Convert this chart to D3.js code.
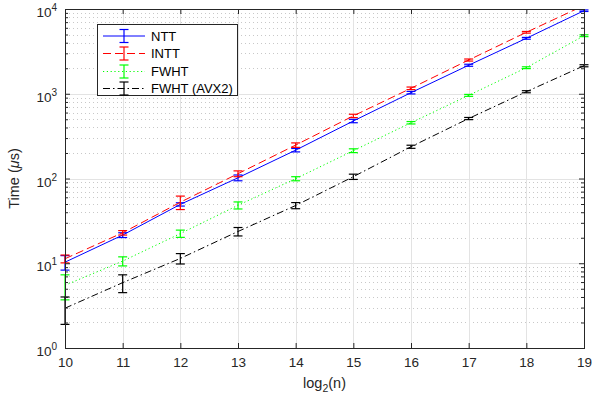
<!DOCTYPE html>
<html><head><meta charset="utf-8">
<script src="https://cdn.jsdelivr.net/npm/d3@7"></script>
<style>body{margin:0;background:#fff}</style>
</head><body>
<svg id="c" width="605" height="402"></svg>
<script>
// ---- data ----
const nVals = [10, 11, 12, 13, 14, 15, 16, 17, 18, 19];
const nttMean  = [10.3, 21.5, 49.5, 102, 216, 477, 1030, 2170, 4510, 9550];
const nttErr   = [2.0, 1.4, 2.2, 8, 10, 22, 35, 60, 110, 200];
const inttMean = [11.3, 22.9, 52.5, 114, 248, 548, 1160, 2500, 5310, 11000];
const inttErr  = [1.2, 1.4, 9.5, 9, 15, 25, 40, 70, 120, 200];
const fwhtMean = [5.5, 10.6, 22.4, 48.3, 99.5, 213, 455, 957, 2030, 4840];
const fwhtErr  = [1.8, 1.3, 2.2, 4.6, 5.5, 11, 15, 25, 50, 120];
const avxMean  = [2.95, 5.9, 11.4, 23.7, 48, 105, 237, 510, 1057, 2140];
const avxErr   = [1.05, 1.4, 1.6, 2.7, 4, 7.5, 10, 15, 30, 60];
const seriesNames = ["NTT", "INTT", "FWHT", "FWHT (AVX2)"];
const yTickExp = [0, 1, 2, 3, 4];
const xLabel = "log";
const yLabel = "Time (";

const series = [
  {name: seriesNames[0], mean: nttMean,  err: nttErr,  color: "#0000ff", dash: null},
  {name: seriesNames[1], mean: inttMean, err: inttErr, color: "#ff0000", dash: "8,4"},
  {name: seriesNames[2], mean: fwhtMean, err: fwhtErr, color: "#00ff00", dash: "1.2,2.6"},
  {name: seriesNames[3], mean: avxMean,  err: avxErr,  color: "#000000", dash: "7,3,1.5,3"}
];

const FONT = "'Liberation Sans', Arial, Helvetica, sans-serif";
const AX = "#262626";
const svg = d3.select("#c").style("font-family", FONT);
const L = 65, R = 584, T = 9, B = 348;
const x = d3.scaleLinear().domain([10, 19]).range([L, R]);
const y = d3.scaleLog().domain([1, 1e4]).range([B, T]);

// minor tick values
const minorVals = [];
for (let e = 0; e < 4; e++) for (let k = 2; k <= 9; k++) minorVals.push(k * Math.pow(10, e));
const majorVals = yTickExp.map(e => Math.pow(10, e));

// ---- grid ----
const grid = svg.append("g");
grid.selectAll(".mg").data(minorVals).join("line")
  .attr("x1", L).attr("x2", R)
  .attr("y1", d => Math.round(y(d)) + 0.5).attr("y2", d => Math.round(y(d)) + 0.5)
  .attr("stroke", "#c8c8c8").attr("stroke-width", 1).attr("stroke-dasharray", "1,3");
grid.selectAll(".gy").data(majorVals).join("line")
  .attr("x1", L).attr("x2", R)
  .attr("y1", d => Math.round(y(d)) + 0.5).attr("y2", d => Math.round(y(d)) + 0.5)
  .attr("stroke", "#e3e3e3").attr("stroke-width", 1);
grid.selectAll(".gx").data(nVals).join("line")
  .attr("y1", T).attr("y2", B)
  .attr("x1", d => Math.round(x(d)) + 0.5).attr("x2", d => Math.round(x(d)) + 0.5)
  .attr("stroke", "#e3e3e3").attr("stroke-width", 1);

// ---- series ----
svg.append("defs").append("clipPath").attr("id", "clip")
  .append("rect").attr("x", L - 10).attr("y", T).attr("width", R - L + 20).attr("height", B - T);
const plot = svg.append("g").attr("clip-path", "url(#clip)");
const line = d3.line().x((d, i) => x(nVals[i])).y(d => y(d));
const capW = 4.5;
series.forEach(s => {
  plot.append("path").attr("d", line(s.mean)).attr("fill", "none")
    .attr("stroke", s.color).attr("stroke-width", 1)
    .attr("stroke-dasharray", s.dash);
  const g = plot.append("g").attr("stroke", s.color).attr("stroke-width", 1.2);
  s.mean.forEach((m, i) => {
    const xc = x(nVals[i]);
    const y1 = y(Math.max(m - s.err[i], 0.5)), y2 = y(m + s.err[i]);
    g.append("line").attr("x1", xc).attr("x2", xc).attr("y1", y1).attr("y2", y2);
    g.append("line").attr("x1", xc - capW).attr("x2", xc + capW).attr("y1", y1).attr("y2", y1);
    g.append("line").attr("x1", xc - capW).attr("x2", xc + capW).attr("y1", y2).attr("y2", y2);
  });
});

// ---- axes ----
const fmtNone = () => "";
const xb = svg.append("g").attr("transform", `translate(0,${B})`)
  .call(d3.axisBottom(x).tickValues(nVals).tickFormat(d3.format("d")).tickSizeInner(-5).tickSizeOuter(0).tickPadding(9));
const xt = svg.append("g").attr("transform", `translate(0,${T})`)
  .call(d3.axisTop(x).tickValues(nVals).tickFormat(fmtNone).tickSizeInner(-5).tickSizeOuter(0));
const yl = svg.append("g").attr("transform", `translate(${L},0)`)
  .call(d3.axisLeft(y).tickValues(majorVals).tickFormat(fmtNone).tickSizeInner(-5).tickSizeOuter(0));
const ylm = svg.append("g").attr("transform", `translate(${L},0)`)
  .call(d3.axisLeft(y).tickValues(minorVals).tickFormat(fmtNone).tickSizeInner(-3).tickSizeOuter(0));
const yr = svg.append("g").attr("transform", `translate(${R},0)`)
  .call(d3.axisRight(y).tickValues(majorVals).tickFormat(fmtNone).tickSizeInner(-5).tickSizeOuter(0));
const yrm = svg.append("g").attr("transform", `translate(${R},0)`)
  .call(d3.axisRight(y).tickValues(minorVals).tickFormat(fmtNone).tickSizeInner(-3).tickSizeOuter(0));
[xb, xt, yl, ylm, yr, yrm].forEach(g => {
  g.selectAll("path").attr("stroke", AX);
  g.selectAll("line").attr("stroke", AX);
  g.selectAll("text").attr("fill", AX).style("font-family", FONT).style("font-size", "13.5px");
});
svg.append("rect").attr("x", L + 0.5).attr("y", T + 0.5).attr("width", R - L).attr("height", B - T)
  .attr("fill", "none").attr("stroke", AX).attr("stroke-width", 1);

// y tick labels 10^e
yTickExp.forEach(e => {
  const t = svg.append("text").attr("x", 57).attr("y", y(Math.pow(10, e)) + 8)
    .attr("text-anchor", "end").attr("fill", AX).style("font-size", "13.5px");
  t.append("tspan").text("10");
  t.append("tspan").attr("dy", -6).style("font-size", "10px").text(String(e));
});

// axis labels
const xl = svg.append("text").attr("x", (L + R) / 2).attr("y", 388).attr("text-anchor", "middle")
  .attr("fill", AX).style("font-size", "14.5px");
xl.append("tspan").text(xLabel);
xl.append("tspan").attr("dy", 4).style("font-size", "10.5px").text("2");
xl.append("tspan").attr("dy", -4).text("(n)");

const ylab = svg.append("text").attr("transform", `translate(19,${(T + B) / 2}) rotate(-90)`)
  .attr("text-anchor", "middle").attr("fill", AX).style("font-size", "14.5px");
ylab.append("tspan").text(yLabel);
ylab.append("tspan").style("font-style", "italic").text("\u03bc");
ylab.append("tspan").text("s)");

// ---- legend ----
const lg = svg.append("g");
lg.append("rect").attr("x", 97.5).attr("y", 24.5).attr("width", 140).attr("height", 71)
  .attr("fill", "#fff").attr("stroke", AX).attr("stroke-width", 1);
const ly = [36, 53.5, 71.5, 88.5];
series.forEach((s, i) => {
  const yy = ly[i];
  lg.append("line").attr("x1", 103).attr("x2", 145).attr("y1", yy).attr("y2", yy)
    .attr("stroke", s.color).attr("stroke-width", 1).attr("stroke-dasharray", s.dash);
  const g = lg.append("g").attr("stroke", s.color).attr("stroke-width", 1.2);
  g.append("line").attr("x1", 124).attr("x2", 124).attr("y1", yy - 6.5).attr("y2", yy + 6.5);
  g.append("line").attr("x1", 124 - capW).attr("x2", 124 + capW).attr("y1", yy - 6.5).attr("y2", yy - 6.5);
  g.append("line").attr("x1", 124 - capW).attr("x2", 124 + capW).attr("y1", yy + 6.5).attr("y2", yy + 6.5);
  lg.append("text").attr("x", 151).attr("y", yy + 4.5).attr("fill", "#000")
    .style("font-size", "13px").text(s.name);
});
</script>
</body></html>
